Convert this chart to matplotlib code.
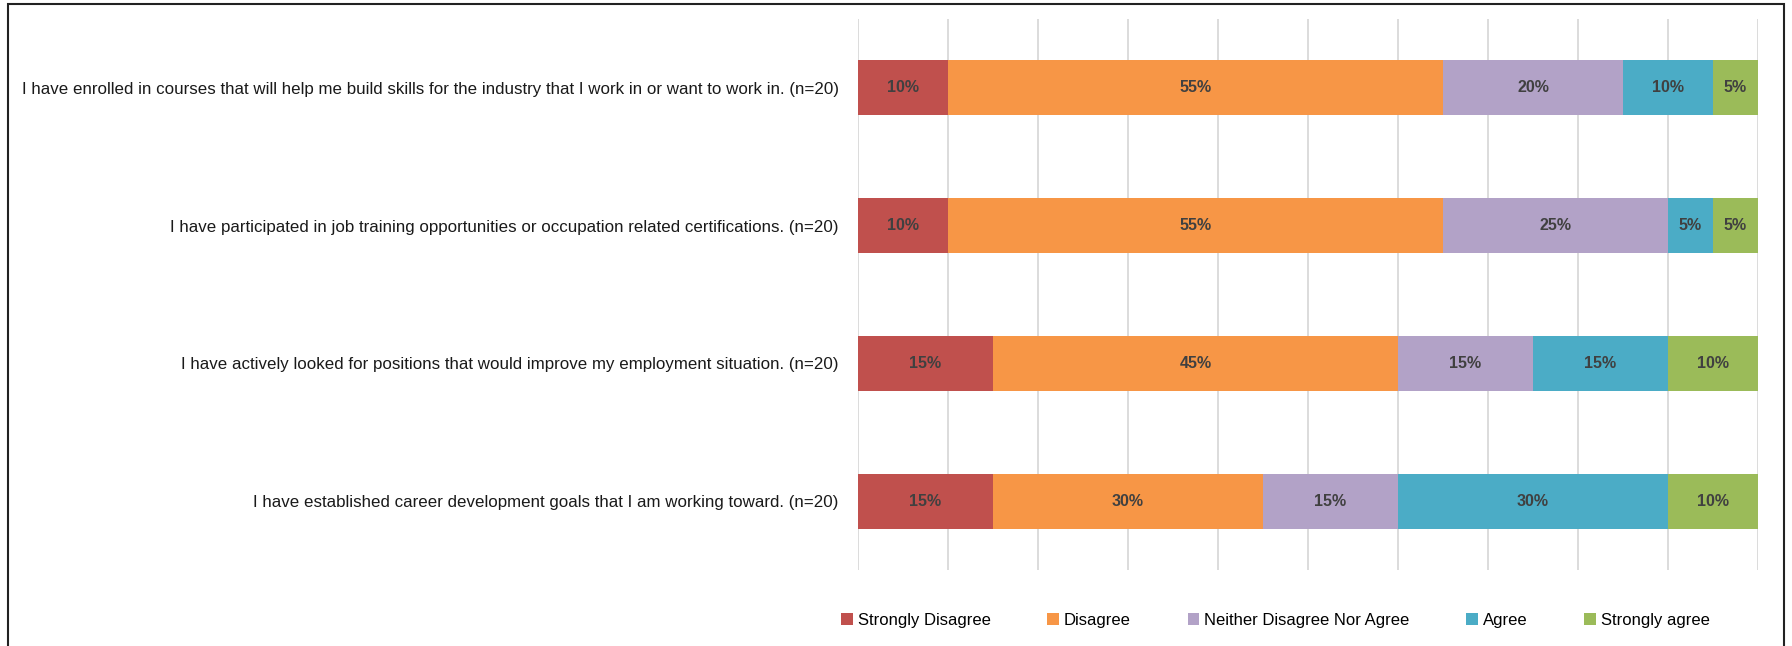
import numpy as np
import matplotlib.pyplot as plt
from matplotlib.patches import Rectangle

plt.rcParams['font.family'] = ['Liberation Sans', 'DejaVu Sans']

# survey statements, top to bottom
questions = [
    "I have enrolled in courses that will help me build skills for the industry that I work in or want to work in. (n=20)",
    "I have participated in job training opportunities or occupation related certifications. (n=20)",
    "I have actively looked for positions that would improve my employment situation. (n=20)",
    "I have established career development goals that I am working toward. (n=20)",
]
responses = ["Strongly Disagree", "Disagree", "Neither Disagree Nor Agree", "Agree", "Strongly agree"]
colors = ["#C0504D", "#F79646", "#B2A2C7", "#4BACC6", "#9BBB59"]

strongly_disagree = [10, 10, 15, 15]
disagree = [55, 55, 45, 30]
neither = [20, 25, 15, 15]
agree = [10, 5, 15, 30]
strongly_agree = [5, 5, 10, 10]
series = [strongly_disagree, disagree, neither, agree, strongly_agree]

fig = plt.figure(figsize=(17.92, 6.46), dpi=100)
ax = fig.add_axes([0.4788, 0.1176, 0.5022, 0.853])

y = np.arange(len(questions))
left = np.zeros(len(questions))
for vals, name, col in zip(series, responses, colors):
    vals = np.array(vals, dtype=float)
    bars = ax.barh(y, vals, left=left, height=0.4, color=col, label=name, zorder=3)
    for b, v in zip(bars, vals):
        ax.text(b.get_x() + b.get_width() / 2, b.get_y() + b.get_height() / 2,
                f"{int(v)}%", ha='center', va='center', fontsize=11.5,
                fontweight='bold', color='#404040', zorder=4)
    left += vals

ax.set_xlim(0, 100)
ax.set_ylim(-0.5, len(questions) - 0.5)
ax.invert_yaxis()
ax.set_xticks(np.arange(0, 101, 10))
ax.set_xticklabels([])
ax.set_yticks(y)
ax.set_yticklabels(questions, fontsize=12.2, color='#1a1a1a')
ax.tick_params(axis='both', length=0)
ax.tick_params(axis='y', pad=14)
ax.grid(axis='x', color='#D9D9D9', linewidth=1.3, zorder=0)
for s in ax.spines.values():
    s.set_visible(False)

leg = fig.legend(loc='center', bbox_to_anchor=(0.7117, 0.04), ncol=5, frameon=False,
                 fontsize=12, handlelength=0.7, handleheight=0.7, handletextpad=0.3,
                 columnspacing=3.4)

# outer frame (bottom edge runs off the image)
fig.patches.append(Rectangle((8 / 1792, -0.05), (1784 - 8) / 1792, 1.05 - 4 / 646,
                             transform=fig.transFigure, fill=False,
                             edgecolor='#222222', linewidth=1.5))

plt.savefig("out.png", dpi=100)
